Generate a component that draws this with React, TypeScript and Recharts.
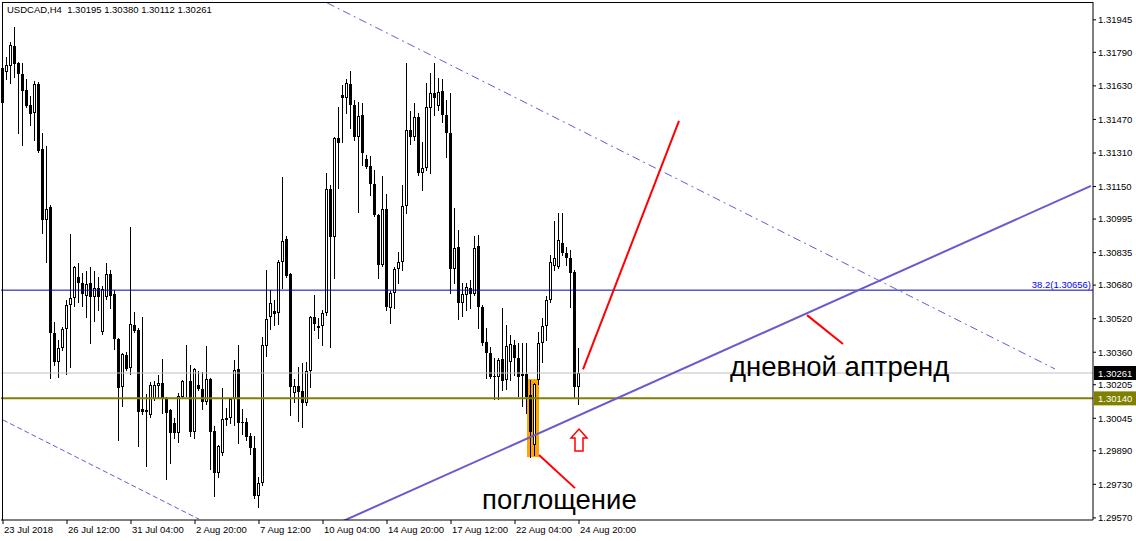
import React from 'react';
import {
  Bar,
  ComposedChart,
  ReferenceArea,
  ReferenceDot,
  ReferenceLine,
  XAxis,
  YAxis,
} from 'recharts';

// USDCAD H4 candles (bar 0 .. 144)
const opens = [
  1.31549, 1.31697, 1.31725, 1.31821, 1.31739, 1.31687, 1.31611, 1.31539, 1.31501, 1.31639,
  1.31329, 1.30991, 1.31053, 1.30452, 1.30313, 1.3038, 1.30471, 1.30585, 1.30619, 1.30719,
  1.3069, 1.30628, 1.3069, 1.30623, 1.30666, 1.30456, 1.30623, 1.30733, 1.30638, 1.30423,
  1.30194, 1.30347, 1.30285, 1.3049, 1.30466, 1.30089, 1.30084, 1.3006, 1.30137, 1.30199,
  1.30213, 1.30142, 1.30084, 1.30022, 1.29975, 1.30146, 1.30213, 1.30223, 1.29979, 1.30204,
  1.30184, 1.30122, 1.30232, 1.29984, 1.29784, 1.29879, 1.30037, 1.30046, 1.30137, 1.3028,
  1.30027, 1.30027, 1.2996, 1.29903, 1.29674, 1.29736, 1.3039, 1.30528, 1.30557, 1.30547,
  1.3079, 1.309, 1.30733, 1.30165, 1.30199, 1.30175, 1.30118, 1.3027, 1.30528, 1.30475,
  1.30485, 1.30547, 1.31138, 1.3091, 1.31382, 1.31587, 1.31573, 1.31639, 1.31539, 1.31387,
  1.31491, 1.31282, 1.31248, 1.31162, 1.31014, 1.30776, 1.31043, 1.30571, 1.30642, 1.30757,
  1.3079, 1.31057, 1.3142, 1.31387, 1.31482, 1.31215, 1.31239, 1.31525, 1.31596, 1.31534,
  1.31606, 1.31491, 1.31406, 1.30757, 1.30862, 1.30595, 1.30633, 1.30666, 1.30638, 1.30867,
  1.30576, 1.30409, 1.30356, 1.30246, 1.30242, 1.30328, 1.30227, 1.30313, 1.30394, 1.30332,
  1.30246, 1.30256, 1.30156, 1.29917, 1.30227, 1.30404, 1.30485, 1.30609, 1.30771, 1.30766,
  1.30881, 1.30833, 1.30809, 1.30743, 1.30195,
];
const highs = [
  1.31792, 1.31768, 1.3184, 1.31911, 1.31744, 1.31739, 1.31663, 1.31582, 1.31654, 1.31649,
  1.31406, 1.31344, 1.31062, 1.30504, 1.30418, 1.3048, 1.30609, 1.30924, 1.30771, 1.30785,
  1.30738, 1.30747, 1.30766, 1.30747, 1.30719, 1.30676, 1.30785, 1.30752, 1.30657, 1.30428,
  1.30356, 1.30361, 1.30957, 1.30552, 1.30475, 1.30528, 1.30161, 1.30218, 1.30223, 1.30251,
  1.30328, 1.30146, 1.30089, 1.30046, 1.30165, 1.30227, 1.30394, 1.30299, 1.30285, 1.3027,
  1.30266, 1.3039, 1.30237, 1.30008, 1.29917, 1.30189, 1.30094, 1.30137, 1.30323, 1.30394,
  1.30089, 1.30046, 1.29975, 1.2996, 1.29765, 1.30433, 1.30752, 1.30657, 1.30609, 1.308,
  1.31196, 1.30914, 1.30738, 1.30232, 1.30289, 1.30308, 1.30313, 1.30533, 1.30633, 1.30523,
  1.30561, 1.31215, 1.31158, 1.31386, 1.3153, 1.31635, 1.31663, 1.31701, 1.31563, 1.31553,
  1.31549, 1.31301, 1.31296, 1.31229, 1.31019, 1.312, 1.31115, 1.30652, 1.30766, 1.30838,
  1.31158, 1.31739, 1.31511, 1.31549, 1.31501, 1.31363, 1.31644, 1.31692, 1.31739, 1.31668,
  1.31663, 1.31563, 1.31596, 1.31048, 1.30943, 1.3069, 1.3069, 1.30704, 1.30914, 1.30919,
  1.30585, 1.30475, 1.30385, 1.30332, 1.30332, 1.30571, 1.3049, 1.30442, 1.30418, 1.30404,
  1.30404, 1.30404, 1.30227, 1.30213, 1.30456, 1.30523, 1.30628, 1.30824, 1.30986, 1.31024,
  1.31024, 1.30862, 1.30847, 1.30752, 1.3038,
];
const lows = [
  1.31525, 1.31663, 1.31644, 1.31673, 1.31406, 1.31348, 1.3153, 1.31444, 1.31372, 1.31315,
  1.30929, 1.3079, 1.30237, 1.30299, 1.30242, 1.3037, 1.30256, 1.30289, 1.3058, 1.30599,
  1.3058, 1.30528, 1.30404, 1.30509, 1.30561, 1.30447, 1.30614, 1.30571, 1.30375, 1.29941,
  1.30103, 1.30275, 1.30256, 1.30456, 1.29913, 1.30065, 1.29817, 1.30051, 1.30132, 1.30146,
  1.3007, 1.29755, 1.29831, 1.29951, 1.29932, 1.30142, 1.30151, 1.2996, 1.29951, 1.3018,
  1.30089, 1.30113, 1.29803, 1.29674, 1.29765, 1.2987, 1.30013, 1.30022, 1.30013, 1.29927,
  1.2997, 1.29941, 1.29874, 1.29665, 1.29622, 1.29727, 1.30342, 1.30471, 1.3049, 1.30495,
  1.30666, 1.30719, 1.3006, 1.30122, 1.30032, 1.30003, 1.30108, 1.30194, 1.30466, 1.30428,
  1.30394, 1.30537, 1.30385, 1.30714, 1.31143, 1.31363, 1.31501, 1.31429, 1.31372, 1.31029,
  1.31253, 1.31239, 1.3111, 1.3101, 1.30714, 1.30771, 1.30561, 1.30499, 1.30571, 1.3069,
  1.30752, 1.31024, 1.31353, 1.31372, 1.31205, 1.31134, 1.31229, 1.31215, 1.31491, 1.31515,
  1.31458, 1.31291, 1.30642, 1.3069, 1.30518, 1.30533, 1.30561, 1.30571, 1.30633, 1.30475,
  1.30394, 1.30237, 1.30237, 1.30137, 1.30137, 1.3018, 1.30184, 1.30227, 1.30251, 1.30151,
  1.30103, 1.3007, 1.2986, 1.2987, 1.30208, 1.30313, 1.30418, 1.30599, 1.30752, 1.30762,
  1.30824, 1.30776, 1.30576, 1.30146, 1.30112,
];
const closes = [
  1.31716, 1.3173, 1.31825, 1.31735, 1.31687, 1.31606, 1.31534, 1.31496, 1.31639, 1.3132,
  1.30991, 1.31043, 1.30452, 1.30313, 1.3038, 1.30471, 1.30585, 1.30619, 1.30766, 1.3069,
  1.30638, 1.30685, 1.30623, 1.30666, 1.30623, 1.30661, 1.30733, 1.30628, 1.30423, 1.30189,
  1.30351, 1.3028, 1.30495, 1.30461, 1.30075, 1.30075, 1.30075, 1.30204, 1.30204, 1.30213,
  1.30137, 1.3007, 1.29975, 1.29975, 1.30151, 1.30223, 1.30218, 1.29979, 1.3028, 1.30184,
  1.30122, 1.30232, 1.29979, 1.29784, 1.29913, 1.30041, 1.30046, 1.30137, 1.30275, 1.30022,
  1.30022, 1.29956, 1.29903, 1.29674, 1.29736, 1.30394, 1.30518, 1.30595, 1.30542, 1.3079,
  1.3089, 1.30723, 1.30194, 1.30199, 1.3017, 1.30118, 1.3027, 1.30528, 1.30495, 1.30485,
  1.30547, 1.31138, 1.3091, 1.31382, 1.31358, 1.31573, 1.31644, 1.31539, 1.31387, 1.31487,
  1.3131, 1.31243, 1.31162, 1.31014, 1.30776, 1.31043, 1.30576, 1.30642, 1.30757, 1.3079,
  1.31057, 1.3142, 1.31387, 1.31482, 1.31215, 1.31239, 1.3153, 1.31596, 1.31573, 1.31601,
  1.31491, 1.31406, 1.30757, 1.30857, 1.30595, 1.30638, 1.30671, 1.30638, 1.30857, 1.30576,
  1.30404, 1.30356, 1.30242, 1.30242, 1.30323, 1.30223, 1.3039, 1.30399, 1.30332, 1.30242,
  1.30256, 1.30146, 1.29979, 1.30208, 1.30404, 1.30485, 1.30609, 1.3079, 1.30809, 1.30895,
  1.30833, 1.30809, 1.30738, 1.30194, 1.30261,
];

const SLOTS = 273; // bars that fit in the window (empty space on the right)

const timeTicks = [0, 16, 32, 48, 64, 80, 96, 112, 128, 144];
const timeLabels = [
  '23 Jul 2018', '26 Jul 12:00', '31 Jul 04:00', '2 Aug 20:00', '7 Aug 12:00',
  '10 Aug 04:00', '14 Aug 20:00', '17 Aug 12:00', '22 Aug 04:00', '24 Aug 20:00',
];
const priceTicks = [
  1.31945, 1.3179, 1.3163, 1.3147, 1.3131, 1.3115, 1.30995, 1.30835, 1.3068, 1.3052,
  1.3036, 1.30205, 1.30045, 1.2989, 1.2973, 1.2957,
];

// drawn objects (bar index, price)
const uptrend = [{ x: 85, y: 1.29555 }, { x: 272, y: 1.31153 }];
const channelTop = [{ x: 81, y: 1.32026 }, { x: 263, y: 1.3028 }];
const channelLow = [{ x: 0, y: 1.30037 }, { x: 49, y: 1.29564 }];
const redRay = [{ x: 145, y: 1.30278 }, { x: 169, y: 1.31463 }];
const pointerTrend = [{ x: 201, y: 1.30537 }, { x: 210, y: 1.30399 }];
const pointerEngulf = [{ x: 134, y: 1.2987 }, { x: 143, y: 1.29712 }];
const fibLevel = 1.30656;
const bidLevel = 1.30261;
const supportLevel = 1.3014;
const engulfBox = { x1: 131, x2: 134, y1: 1.2986, y2: 1.30232 };
const arrowAt = { x: 144, y: 1.29941 };
const trendText = { x: 182, y: 1.30247, text: 'дневной аптренд' };
const engulfText = { x: 120, y: 1.29612, text: 'поглощение' };

const data = Array.from({ length: SLOTS }, (_, i) =>
  i < opens.length
    ? { i, open: opens[i], high: highs[i], low: lows[i], close: closes[i] }
    : { i },
);

const FONT = '"Liberation Sans", Arial, sans-serif';

const Candle = (props: any) => {
  const { x, y, width, height, payload } = props;
  if (!payload || payload.open == null) return null;
  const { open, close, high, low } = payload;
  const span = high - low || 1e-9;
  const py = (v: number) => y + ((high - v) / span) * height;
  const cx = Math.floor(x + width / 2) + 0.5;
  const yo = py(open);
  const yc = py(close);
  const top = Math.round(Math.min(yo, yc));
  const bot = Math.round(Math.max(yo, yc));
  const bull = close > open;
  return (
    <g>
      <line x1={cx} x2={cx} y1={Math.round(y)} y2={Math.round(y + height) + 1} stroke="#000" />
      {bull ? (
        <rect x={cx - 1} y={top + 0.5} width={2} height={Math.max(bot - top - 1, 0)} fill="#fff" stroke="#000" />
      ) : (
        <rect x={cx - 1.5} y={top} width={3} height={Math.max(bot - top, 1)} fill="#000" />
      )}
    </g>
  );
};

const TimeTick = (props: any) => {
  const { x, y, payload } = props;
  const k = timeTicks.indexOf(payload.value);
  return (
    <g>
      <line x1={x} x2={x} y1={y} y2={y + 4} stroke="#000" />
      <text x={x + 1} y={y + 13} fontSize={9.5} fontFamily={FONT} fill="#000">
        {timeLabels[k]}
      </text>
    </g>
  );
};

const priceBox = (value: number, bg: string) => (p: any) => {
  const vb = p.viewBox;
  const right = vb.x + vb.width;
  return (
    <g>
      <rect x={right + 1} y={vb.y - 7} width={43} height={14} fill={bg} />
      <text x={right + 5} y={vb.y + 4} fontSize={9.5} fontFamily={FONT} fill="#fff">
        {value.toFixed(5)}
      </text>
    </g>
  );
};

const fibLabel = (p: any) => {
  const vb = p.viewBox;
  return (
    <text x={vb.x + vb.width - 2} y={vb.y - 2} textAnchor="end" fontSize={9.5} fontFamily={FONT} fill="#0000ff">
      {`38.2(${fibLevel.toFixed(5)})`}
    </text>
  );
};

const UpArrow = (p: any) => {
  const { cx, cy } = p;
  const pts = [
    [cx, cy - 11], [cx + 8, cy - 2], [cx + 4, cy - 2], [cx + 4, cy + 11],
    [cx - 4, cy + 11], [cx - 4, cy - 2], [cx - 8, cy - 2],
  ].map((q) => q.join(',')).join(' ');
  return <polygon points={pts} fill="#fff" stroke="#ff0000" strokeWidth={1.5} />;
};

const bigText = (t: string) => (p: any) => (
  <text x={p.cx - 1} y={p.cy} fontSize={27.5} fontFamily={FONT} fill="#000">
    {t}
  </text>
);

export default function App() {
  return (
    <div style={{ position: 'relative', width: 1136, height: 541, background: '#fff' }}>
      <style>{'body{margin:0;}'}</style>
      <ComposedChart
        width={1136}
        height={541}
        data={data}
        margin={{ top: 2, right: 0, bottom: 0, left: 1 }}
        barCategoryGap="10%"
      >
        <XAxis
          dataKey="i"
          type="category"
          ticks={timeTicks}
          interval={0}
          tick={<TimeTick />}
          tickLine={false}
          tickSize={0}
          tickMargin={0}
          height={21}
          axisLine={{ stroke: '#000' }}
        />
        <YAxis
          orientation="right"
          domain={[1.2956, 1.3203]}
          allowDataOverflow
          ticks={priceTicks}
          interval={0}
          width={43}
          tickSize={3}
          tickMargin={2}
          tickFormatter={(v: number) => v.toFixed(5)}
          tick={{ fill: '#000', fontSize: 9.5, fontFamily: FONT }}
          tickLine={{ stroke: '#000' }}
          axisLine={{ stroke: '#000' }}
        />
        <ReferenceArea
          x1={engulfBox.x1}
          x2={engulfBox.x2}
          y1={engulfBox.y1}
          y2={engulfBox.y2}
          ifOverflow="hidden"
          shape={(p: any) => (
            <rect x={p.x + 2} y={p.y} width={Math.max(p.width - 4, 0)} height={p.height} fill="#ffa500" />
          )}
        />
        <ReferenceLine y={bidLevel} stroke="#c0c0c0" label={priceBox(bidLevel, '#000')} />
        <ReferenceLine y={fibLevel} stroke="#0000b0" label={fibLabel} />
        <Bar
          dataKey={(d: any) => (d.open == null ? undefined : [d.low, d.high])}
          shape={(p: any) => <Candle {...p} />}
          isAnimationActive={false}
        />
        <ReferenceLine y={supportLevel} stroke="#808000" strokeWidth={2} label={priceBox(supportLevel, '#808000')} />
        <ReferenceLine segment={channelTop} stroke="#6a5acd" strokeDasharray="8 4 2 4" ifOverflow="hidden" />
        <ReferenceLine segment={channelLow} stroke="#6a5acd" strokeDasharray="5 3" ifOverflow="hidden" />
        <ReferenceLine segment={uptrend} stroke="#6a5acd" strokeWidth={2} ifOverflow="hidden" />
        <ReferenceLine segment={redRay} stroke="#ff0000" strokeWidth={2} ifOverflow="hidden" />
        <ReferenceLine segment={pointerTrend} stroke="#ff0000" strokeWidth={2} ifOverflow="hidden" />
        <ReferenceLine segment={pointerEngulf} stroke="#ff0000" strokeWidth={2} ifOverflow="hidden" />
        <ReferenceDot x={arrowAt.x} y={arrowAt.y} r={0} shape={UpArrow} />
        <ReferenceDot x={trendText.x} y={trendText.y} r={0} shape={bigText(trendText.text)} />
        <ReferenceDot x={engulfText.x} y={engulfText.y} r={0} shape={bigText(engulfText.text)} />
      </ComposedChart>
      <div
        style={{
          position: 'absolute',
          left: 2,
          top: 2,
          width: 1091,
          height: 518,
          borderLeft: '1px solid #000',
          borderTop: '1px solid #000',
          boxSizing: 'border-box',
          pointerEvents: 'none',
        }}
      />
      <div
        style={{
          position: 'absolute',
          left: 7,
          top: 4,
          fontFamily: FONT,
          fontSize: 9.5,
          color: '#000',
          whiteSpace: 'pre',
        }}
      >
        {'USDCAD,H4  1.30195 1.30380 1.30112 1.30261'}
      </div>
    </div>
  );
}
